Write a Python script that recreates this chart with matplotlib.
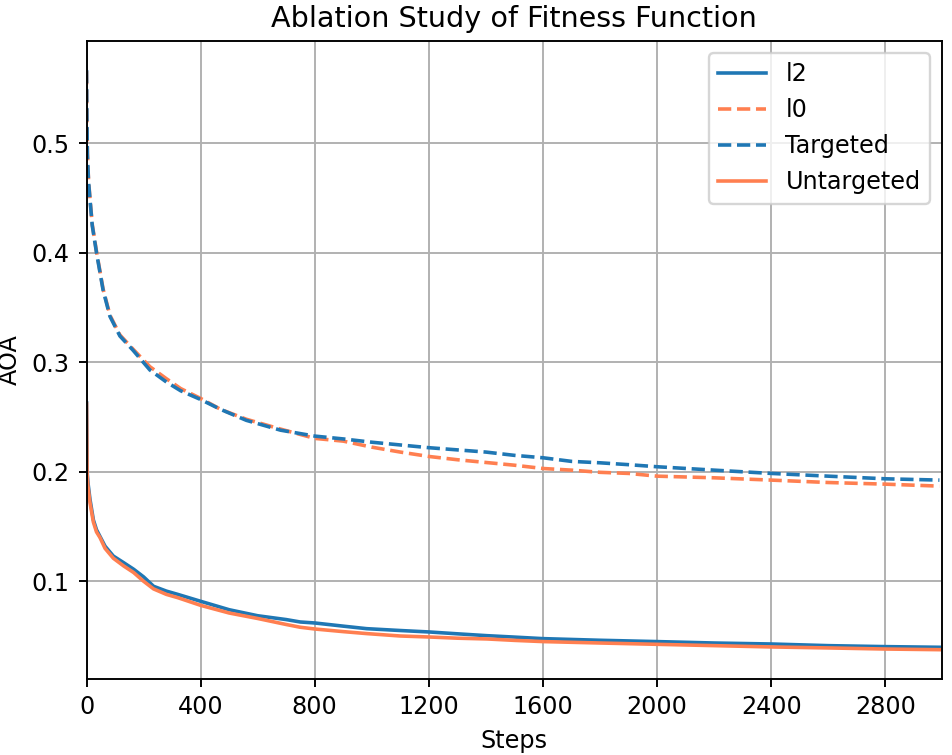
import matplotlib
matplotlib.use("Agg")
import matplotlib.pyplot as plt

# steps for the dashed curves
dash_steps = [0, 1, 3, 7, 12, 20, 35, 58, 82, 117, 163, 222, 280, 330, 400, 470,
              560, 680, 800, 900, 1000, 1100, 1200, 1300, 1400, 1500, 1600, 1700,
              1800, 1900, 2000, 2200, 2400, 2600, 2800, 2990]
targeted = [0.567, 0.53, 0.49, 0.465, 0.449, 0.425, 0.400, 0.366, 0.342, 0.324,
            0.311, 0.293, 0.282, 0.274, 0.266, 0.257, 0.247, 0.238, 0.2326, 0.230,
            0.227, 0.2245, 0.222, 0.220, 0.218, 0.215, 0.2128, 0.2095, 0.2082,
            0.2065, 0.2046, 0.2015, 0.1985, 0.196, 0.1936, 0.1924]
l0 = [0.566, 0.53, 0.491, 0.466, 0.450, 0.426, 0.401, 0.367, 0.343, 0.325,
      0.312, 0.296, 0.285, 0.276, 0.267, 0.257, 0.248, 0.239, 0.2305, 0.228,
      0.2225, 0.218, 0.214, 0.211, 0.2085, 0.206, 0.203, 0.2015, 0.1995,
      0.1985, 0.196, 0.1945, 0.1924, 0.1902, 0.1887, 0.1869]

# steps for the solid curves
solid_steps = [0, 2, 5, 12, 24, 35, 47, 65, 94, 130, 165, 200, 235, 280, 320, 400,
               500, 600, 700, 749, 800, 900, 982, 1100, 1200, 1300, 1404, 1500,
               1600, 1800, 2000, 2200, 2400, 2600, 2800, 2990]
l2 = [0.263, 0.200, 0.190, 0.175, 0.156, 0.147, 0.141, 0.132, 0.123, 0.117,
      0.111, 0.104, 0.0954, 0.091, 0.088, 0.0817, 0.074, 0.0685, 0.065, 0.0628,
      0.0619, 0.059, 0.0567, 0.055, 0.0537, 0.052, 0.0503, 0.049, 0.0476,
      0.0461, 0.0449, 0.0436, 0.0427, 0.0412, 0.0403, 0.0397]
untargeted = [0.262, 0.198, 0.187, 0.172, 0.154, 0.145, 0.140, 0.130, 0.121, 0.114,
              0.108, 0.100, 0.093, 0.088, 0.085, 0.078, 0.071, 0.066, 0.0605, 0.058,
              0.0564, 0.054, 0.0522, 0.050, 0.0491, 0.048, 0.0473, 0.046, 0.0449,
              0.0436, 0.0424, 0.0412, 0.040, 0.0391, 0.0381, 0.0375]

x_ticks = [0, 400, 800, 1200, 1600, 2000, 2400, 2800]

BLUE = "#1f77b4"
CORAL = "coral"


def main():
    dpi = 172
    fig = plt.figure(figsize=(952 / dpi, 755 / dpi), dpi=dpi)
    ax = fig.add_axes([0.0909, 0.1011, 0.8986, 0.8446])

    ax.plot(solid_steps, l2, color=BLUE, linestyle="-", label="l2")
    ax.plot(dash_steps, l0, color=CORAL, linestyle="--", label="l0")
    ax.plot(dash_steps, targeted, color=BLUE, linestyle="--", label="Targeted")
    ax.plot(solid_steps, untargeted, color=CORAL, linestyle="-", label="Untargeted")

    ax.set_xlim(0, 2999)
    ax.set_xticks(x_ticks)
    ax.set_yticks([0.1, 0.2, 0.3, 0.4, 0.5])
    ax.grid(True)
    ax.set_title("Ablation Study of Fitness Function")
    ax.set_xlabel("Steps")
    ax.set_ylabel("AOA")
    ax.legend(loc="upper right")

    fig.savefig("out.png", dpi=dpi)


if __name__ == "__main__":
    main()
